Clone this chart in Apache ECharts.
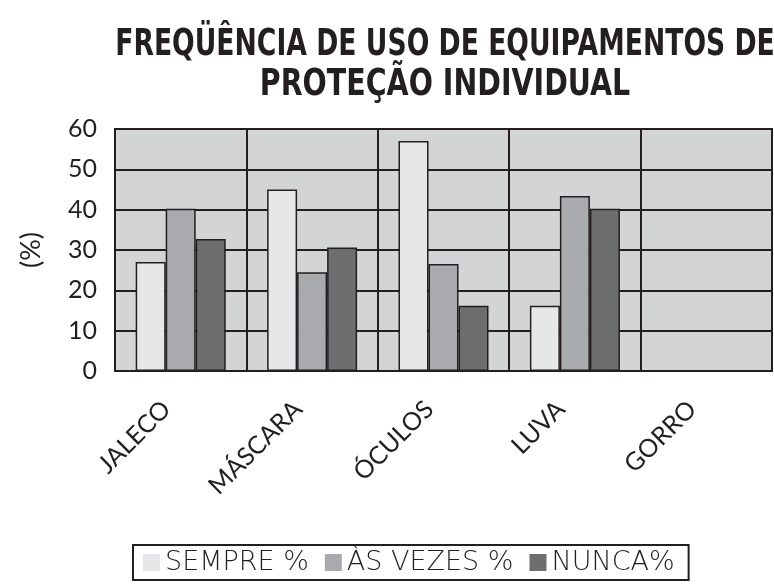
<!DOCTYPE html>
<html>
<head>
<meta charset="utf-8">
<title>Frequência de uso de EPI</title>
<script src="https://cdn.jsdelivr.net/npm/echarts@6/dist/echarts.min.js"></script>
<style>
	html, body { margin: 0; padding: 0; background: #fff; }
	#main { width: 774px; height: 584px; }
</style>
</head>
<body>
<div id="main"></div>
<script>
	// dados
	var categorias = ['JALECO', 'MÁSCARA', 'ÓCULOS', 'LUVA', 'GORRO'];
	var sempre = [27, 45, 57, 16.2, 0];
	var asVezes = [40.2, 24.5, 26.5, 43.4, 0];
	var nunca = [32.7, 30.6, 16.2, 40.2, 0];
	var yTicks = [0, 10, 20, 30, 40, 50, 60];
	var tituloLinhas = ['FREQÜÊNCIA DE USO DE EQUIPAMENTOS DE', 'PROTEÇÃO INDIVIDUAL'];

	var ink = '#231f20';
	var fonte = 'Lato, "Liberation Sans", sans-serif';

	var myChart = echarts.init(document.getElementById('main'));

	function serie(nome, dados, cor) {
		return {
			name: nome,
			type: 'bar',
			data: dados,
			barWidth: 30,
			barGap: '0%',
			itemStyle: {
				color: cor,
				borderColor: ink,
				borderWidth: 1.5
			}
		};
	}

	// titulo condensado: fonte larga comprimida na horizontal
	function linhaTitulo(texto, y, escala) {
		return {
			type: 'text',
			x: 445,
			y: y,
			scaleX: escala,
			style: {
				text: texto,
				font: 'bold 37px "DejaVu Sans", sans-serif',
				align: 'center',
				verticalAlign: 'top',
				fill: ink
			}
		};
	}

	var option = {
		animation: false,
		graphic: [
			linhaTitulo(tituloLinhas[0], 27, 0.72),
			linhaTitulo(tituloLinhas[1], 67, 0.77)
		],
		legend: {
			bottom: 4,
			left: 133,
			itemWidth: 17,
			itemHeight: 17,
			itemGap: 16,
			icon: 'rect',
			borderColor: ink,
			borderWidth: 2,
			padding: [4, 14, 4, 10],
			textStyle: {
				fontFamily: '"DejaVu Sans", sans-serif',
				fontWeight: 200,
				fontSize: 27,
				color: ink
			},
			data: [
				{ name: 'SEMPRE %', itemStyle: { borderWidth: 0 } },
				{ name: 'ÀS VEZES %', itemStyle: { borderWidth: 0 } },
				{ name: 'NUNCA%', itemStyle: { borderWidth: 0 } }
			]
		},
		grid: {
			left: 115,
			right: 2,
			top: 129,
			bottom: 213,
			show: true,
			backgroundColor: '#d3d4d6',
			borderColor: ink,
			borderWidth: 2
		},
		xAxis: {
			type: 'category',
			data: categorias,
			axisLine: { show: true, lineStyle: { color: ink, width: 2 } },
			axisTick: { show: false },
			splitLine: { show: true, lineStyle: { color: ink, width: 2 } },
			axisLabel: {
				rotate: 45,
				margin: 20,
				padding: [0, 20, 0, 0],
				fontFamily: fonte,
				fontSize: 25,
				color: ink
			}
		},
		yAxis: {
			type: 'value',
			min: yTicks[0],
			max: yTicks[yTicks.length - 1],
			interval: 10,
			name: '(%)',
			nameLocation: 'middle',
			nameGap: 70,
			nameTextStyle: {
				fontFamily: fonte,
				fontSize: 27,
				color: ink
			},
			axisLine: { show: false },
			axisTick: { show: false },
			splitLine: { show: true, lineStyle: { color: ink, width: 2 } },
			axisLabel: {
				margin: 18,
				fontFamily: fonte,
				fontSize: 25,
				color: ink
			}
		},
		series: [
			serie('SEMPRE %', sempre, '#e6e7e9'),
			serie('ÀS VEZES %', asVezes, '#a9aaad'),
			serie('NUNCA%', nunca, '#6d6e70')
		]
	};

	myChart.setOption(option);
</script>
</body>
</html>
